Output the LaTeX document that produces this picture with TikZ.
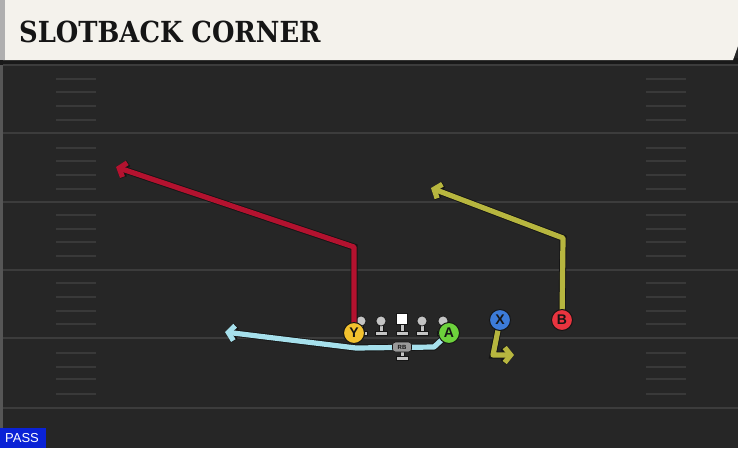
\documentclass[tikz,border=0pt]{standalone}
\usepackage{fontspec}
\setmainfont{DejaVu Sans}
\newfontfamily\titlefont{DejaVu Serif}
\newfontfamily\labelfont{Liberation Sans}
\usetikzlibrary{arrows.meta}
\definecolor{fieldbg}{HTML}{262626}
\definecolor{fieldline}{HTML}{3C3C3C}
\definecolor{hashc}{HTML}{393939}
\definecolor{cream}{HTML}{F4F2EC}
\definecolor{edgegrey}{HTML}{AFAFAF}
\definecolor{darkstrip}{HTML}{191919}
\definecolor{outl}{HTML}{151515}
\definecolor{redroute}{HTML}{B3122F}
\definecolor{oliveroute}{HTML}{B7B63F}
\definecolor{blueroute}{HTML}{A6E0EC}
\definecolor{yfill}{HTML}{F2C12E}
\definecolor{afill}{HTML}{6DD23C}
\definecolor{xfill}{HTML}{3C7BD8}
\definecolor{bfill}{HTML}{E8343F}
\definecolor{passblue}{HTML}{0A22D6}
\definecolor{olgrey}{HTML}{C4C4C4}
\tikzset{
  fline/.style={draw=fieldline, line width=2pt},
  hashm/.style={draw=hashc, line width=1.5pt},
  route/.style={line width=5.2pt, line join=round,
    -{Straight Barb[length=6pt,width=15pt]},
    preaction={draw=outl, line width=7pt, -{Straight Barb[length=6pt,width=15pt]}}},
  player/.style={circle, draw=outl, line width=1pt, minimum size=21pt, inner sep=0pt,
    font=\labelfont\bfseries\fontsize{14}{14}\selectfont, text=outl},
  olpart/.style={fill=olgrey, draw=outl, line width=0.6pt}
}
\newcommand\lineman[2]{%
  \filldraw[olpart] (#1-2.2,#2) rectangle (#1+2.2,#2+11);
  \filldraw[olpart] (#1-6,#2+10) rectangle (#1+6,#2+14);
  \filldraw[olpart] (#1,#2) circle (5);
}
\begin{document}
\begin{tikzpicture}[x=1pt,y=-1pt]
\useasboundingbox (0,0) rectangle (738,448);
% field
\fill[fieldbg] (0,0) rectangle (738,448);
\fill[edgegrey!35!fieldbg] (0,60) rectangle (3,448);
% header
\fill[darkstrip] (0,58) rectangle (738,65);
\fill[cream] (3,0) -- (738,0) -- (738,46) -- (733,60) -- (3,60) -- cycle;
\fill[edgegrey] (0,0) rectangle (5,60);
\node[anchor=west, inner sep=0pt, font=\titlefont\bfseries\fontsize{29}{29}\selectfont, text=outl] (title) at (19,32) {\scalebox{0.89}[1]{SLOTBACK CORNER}};
% yard lines
\foreach \y in {65,133,202,270,338,408} \draw[fline] (3,\y) -- (738,\y);
% hash marks
\foreach \y in {79,92,106,120,148,161,175,189,215,229,242,256,283,297,311,324,353,367,379,394} {
  \draw[hashm] (56,\y) -- (96,\y);
  \draw[hashm] (646,\y) -- (686,\y);
}
% offensive line
\lineman{361}{321}
\lineman{443}{321}
\lineman{381}{321}
\lineman{422}{321}
\filldraw[olpart] (400,320) rectangle (404,332);
\filldraw[olpart] (396,331) rectangle (408,335);
\filldraw[fill=white, draw=outl, line width=0.6pt] (396.5,313) rectangle (407.5,324);
% player positions
\coordinate (Yc) at (354,333);
\coordinate (Ac) at (449,333);
\coordinate (Xc) at (500,320);
\coordinate (Bc) at (562,320);
% route waypoints
\coordinate (y1) at (354,247);
\coordinate (y2) at (116,167);
\coordinate (b1) at (563,238);
\coordinate (b2) at (431,188);
\coordinate (x1) at (493,355);
\coordinate (x2) at (514,355);
\coordinate (a1) at (434,347);
\coordinate (a2) at (356,348);
\coordinate (a3) at (225,332);
% routes
\draw[route, redroute] (Yc) -- (y1) -- (y2);
\draw[route, oliveroute] (Bc) -- (b1) -- (b2);
\draw[route, oliveroute] (Xc) -- (x1) -- (x2);
\draw[route, blueroute] (Ac) -- (a1) -- (a2) -- (a3);
% RB
\filldraw[olpart] (400,350) rectangle (404,357);
\filldraw[olpart] (396,356) rectangle (408,360);
\node[draw=outl, fill=gray!80, rounded corners=3pt, line width=0.6pt, minimum width=19pt, minimum height=10pt, inner sep=0pt, font=\labelfont\bfseries\fontsize{6}{6}\selectfont, text=outl] (rb) at (402,347) {RB};
% players
\node[player, fill=yfill] (Y) at (Yc) {Y};
\node[player, fill=afill] (A) at (Ac) {A};
\node[player, fill=xfill] (X) at (Xc) {X};
\node[player, fill=bfill] (B) at (Bc) {B};
% PASS tag
\fill[passblue] (0,428) rectangle (46,448);
\node[anchor=center, inner sep=0pt, text=white, font=\labelfont\fontsize{13}{13}\selectfont] (pass) at (22,438.5) {PASS};
\end{tikzpicture}
\end{document}
